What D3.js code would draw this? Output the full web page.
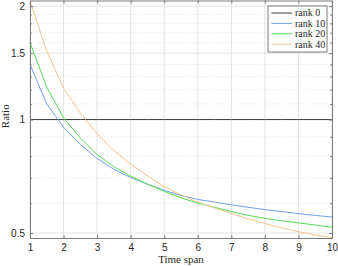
<!DOCTYPE html>
<html>
<head>
<meta charset="utf-8">
<script src="https://d3js.org/d3.v7.min.js"></script>
<style>
  body { margin: 0; background: #fff; }
  .tick text { font: 10px "Liberation Sans", Arial, sans-serif; fill: #262626; }
  .lbl { font: 11px "Liberation Serif", "Times New Roman", serif; fill: #262626; }
  .leg text { font: 10px "Liberation Serif", "Times New Roman", serif; fill: #262626; }
</style>
</head>
<body>
<div id="chart"></div>
<script>
"use strict"
// x values (time span)
var timeSpan = [1, 1.5, 2, 2.5, 3, 3.5, 4, 4.5, 5, 5.5, 6, 6.5, 7, 7.5, 8, 8.5, 9, 9.5, 10];
var rank0  = [1, 1, 1, 1, 1, 1, 1, 1, 1, 1, 1, 1, 1, 1, 1, 1, 1, 1, 1];
var rank10 = [1.40, 1.10, 0.955, 0.858, 0.788, 0.738, 0.702, 0.674, 0.649, 0.629, 0.614, 0.604, 0.594, 0.585, 0.577, 0.570, 0.563, 0.557, 0.551];
var rank20 = [1.60, 1.22, 1.01, 0.893, 0.808, 0.750, 0.708, 0.674, 0.645, 0.620, 0.600, 0.585, 0.570, 0.557, 0.547, 0.539, 0.532, 0.525, 0.518];
var rank40 = [2.06, 1.52, 1.21, 1.04, 0.915, 0.828, 0.763, 0.709, 0.664, 0.631, 0.604, 0.583, 0.563, 0.545, 0.530, 0.516, 0.504, 0.494, 0.486];
var seriesNames = ["rank 0", "rank 10", "rank 20", "rank 40"];
var seriesColors = ["#3a3a3a", "#6fa0f0", "#55dd55", "#f5c48e"];
var xTicks = [1, 2, 3, 4, 5, 6, 7, 8, 9, 10];
var yTicks = [0.5, 1, 1.5, 2];
var yMinor = [0.6, 0.7, 0.8, 0.9, 1.1, 1.2, 1.3, 1.4, 1.6, 1.7, 1.8, 1.9];

var larguraSVG = 338, alturaSVG = 266;
var margin = {top: 0.5, right: 6, bottom: 28, left: 30};
var larguraVis = larguraSVG - margin.left - margin.right,
    alturaVis = alturaSVG - margin.top - margin.bottom;

var svg = d3.select('#chart').append('svg')
  .attr('width', larguraSVG).attr('height', alturaSVG);
var g = svg.append('g')
  .attr('transform', 'translate(' + margin.left + ',' + margin.top + ')');

var x = d3.scaleLinear().domain([1, 10]).range([0, larguraVis]);
var y = d3.scaleLog().domain([0.485, 2.07]).range([alturaVis, 0]);

// grid
g.selectAll('.xgrid').data(xTicks).enter().append('line')
  .attr('x1', d => x(d)).attr('x2', d => x(d))
  .attr('y1', 0).attr('y2', alturaVis)
  .attr('stroke', '#e3e3e3').attr('stroke-width', 1);
g.selectAll('.ygridm').data(yMinor).enter().append('line')
  .attr('x1', 0).attr('x2', larguraVis)
  .attr('y1', d => y(d)).attr('y2', d => y(d))
  .attr('stroke', '#dcdcdc').attr('stroke-width', 0.8)
  .attr('stroke-dasharray', '1,2');
g.selectAll('.ygrid').data(yTicks).enter().append('line')
  .attr('x1', 0).attr('x2', larguraVis)
  .attr('y1', d => y(d)).attr('y2', d => y(d))
  .attr('stroke', '#e3e3e3').attr('stroke-width', 1);

// lines
var dados = [rank0, rank10, rank20, rank40];
var linha = d3.line().x((d, i) => x(timeSpan[i])).y(d => y(d));
dados.forEach(function(s, k) {
  g.append('path').datum(s)
    .attr('d', linha)
    .attr('fill', 'none')
    .attr('stroke', seriesColors[k])
    .attr('stroke-width', 1);
});

// axes (MATLAB box style, ticks inward)
var eixoCor = '#7a7a7a';
var ax = g.append('g').attr('transform', 'translate(0,' + alturaVis + ')')
  .call(d3.axisBottom(x).tickValues(xTicks).tickFormat(d3.format('d')).tickSizeInner(-3).tickSizeOuter(0).tickPadding(6));
var axT = g.append('g')
  .call(d3.axisTop(x).tickValues(xTicks).tickFormat('').tickSizeInner(-3).tickSizeOuter(0));
var ay = g.append('g')
  .call(d3.axisLeft(y).tickValues(yTicks).tickFormat(d3.format('')).tickSizeInner(-3).tickSizeOuter(0).tickPadding(5));
var ayR = g.append('g').attr('transform', 'translate(' + larguraVis + ',0)')
  .call(d3.axisRight(y).tickValues(yTicks).tickFormat('').tickSizeInner(-3).tickSizeOuter(0));
var ayM = g.append('g')
  .call(d3.axisLeft(y).tickValues(yMinor).tickFormat('').tickSizeInner(-1.8).tickSizeOuter(0));
var ayMR = g.append('g').attr('transform', 'translate(' + larguraVis + ',0)')
  .call(d3.axisRight(y).tickValues(yMinor).tickFormat('').tickSizeInner(-1.8).tickSizeOuter(0));
[ax, axT, ay, ayR, ayM, ayMR].forEach(function(a) {
  a.select('.domain').attr('stroke', eixoCor);
  a.selectAll('.tick line').attr('stroke', eixoCor);
});

// axis labels
g.append('text').attr('class', 'lbl')
  .attr('x', larguraVis / 2).attr('y', alturaVis + 25)
  .attr('text-anchor', 'middle').text('Time span');
g.append('text').attr('class', 'lbl')
  .attr('transform', 'translate(-21,' + (alturaVis / 2 - 3) + ') rotate(-90)')
  .attr('text-anchor', 'middle').text('Ratio');

// legend
var leg = g.append('g').attr('class', 'leg')
  .attr('transform', 'translate(' + (268 - margin.left) + ',' + (6 - margin.top) + ')');
leg.append('rect').attr('x', 0).attr('y', 0).attr('width', 59).attr('height', 46)
  .attr('fill', '#fff').attr('stroke', '#5a5a5a').attr('stroke-width', 0.8);
seriesNames.forEach(function(n, k) {
  var yy = 7 + k * 10.4;
  leg.append('line').attr('x1', 3.5).attr('x2', 24).attr('y1', yy).attr('y2', yy)
    .attr('stroke', seriesColors[k]).attr('stroke-width', 1);
  leg.append('text').attr('x', 27).attr('y', yy + 3.3).text(n);
});
</script>
</body>
</html>
